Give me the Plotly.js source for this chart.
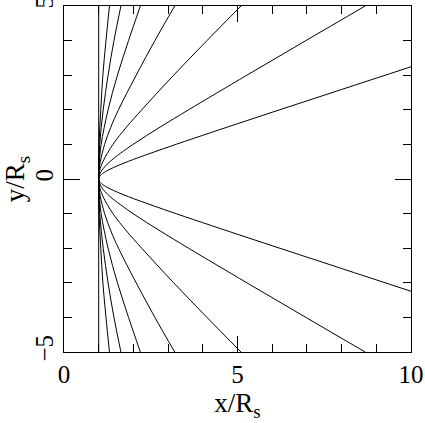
<!DOCTYPE html>
<html>
<head>
<meta charset="utf-8">
<script src="https://cdn.plot.ly/plotly-3.0.1.min.js"></script>
<style>
  html, body { margin: 0; padding: 0; background: #fff; }
  #plot { width: 425px; height: 423px; }
</style>
</head>
<body>
<div id="plot"></div>
<script>
// field lines, upper half (y >= 0)
const xA = [1, 1.01, 1.06, 1.12, 1.21, 1.31];
const yA = [0, 1, 2, 3, 4, 5];
const xB = [1, 1.03, 1.13, 1.27, 1.44, 1.64];
const yB = [0, 1, 2, 3, 4, 5];
const xC = [1, 1.02, 1.07, 1.27, 1.54, 1.86, 2.20];
const yC = [0, 0.5, 1, 2, 3, 4, 5];
const xD = [1, 1.01, 1.045, 1.17, 1.35, 1.57, 2.08, 2.62, 3.19];
const yD = [0, 0.25, 0.5, 1, 1.5, 2, 3, 4, 5];
const xE = [1, 1.005, 1.03, 1.12, 1.41, 1.80, 2.24, 3.16, 4.12, 5.10];
const yE = [0, 0.1, 0.25, 0.5, 1, 1.5, 2, 3, 4, 5];
const xF = [1, 1.015, 1.09, 1.32, 1.99, 2.77, 3.59, 5.27, 6.97, 8.68];
const yF = [0, 0.1, 0.25, 0.5, 1, 1.5, 2, 3, 4, 5];
const xG = [1, 1.01, 1.05, 1.2, 1.5, 2, 3, 4, 6, 8, 10];
const yG = [0, 0.046, 0.104, 0.216, 0.364, 0.565, 0.922, 1.263, 1.929, 2.587, 3.244];

// lower half (y <= 0)
const yAlow = [0, -1, -2, -3, -4, -5];
const yBlow = [0, -1, -2, -3, -4, -5];
const yClow = [0, -0.5, -1, -2, -3, -4, -5];
const yDlow = [0, -0.25, -0.5, -1, -1.5, -2, -3, -4, -5];
const yElow = [0, -0.1, -0.25, -0.5, -1, -1.5, -2, -3, -4, -5];
const yFlow = [0, -0.1, -0.25, -0.5, -1, -1.5, -2, -3, -4, -5];
const yGlow = [0, -0.046, -0.104, -0.216, -0.364, -0.565, -0.922, -1.263, -1.929, -2.587, -3.244];

// the straight line at x = 1
const xAxisLine = [1, 1];
const yAxisLine = [-5, 5];

const curves = [
    [xAxisLine, yAxisLine],
    [xA, yA], [xB, yB], [xC, yC], [xD, yD], [xE, yE], [xF, yF], [xG, yG],
    [xA, yAlow], [xB, yBlow], [xC, yClow], [xD, yDlow], [xE, yElow], [xF, yFlow], [xG, yGlow]
];

const traces = curves.map(c => ({
    x: c[0],
    y: c[1],
    mode: 'lines',
    type: 'scatter',
    line: { color: '#000', width: 1, shape: 'spline', smoothing: 1 },
    hoverinfo: 'skip',
    showlegend: false
}));

const font = { family: 'Liberation Serif, Times New Roman, serif', size: 25, color: '#000' };
const titleFont = { family: 'Liberation Serif, Times New Roman, serif', size: 27, color: '#000' };

const axisStyle = {
    showline: true,
    linecolor: '#000',
    linewidth: 1,
    mirror: 'allticks',
    ticks: 'inside',
    ticklen: 16,
    tickwidth: 1,
    tickcolor: '#000',
    dtick: 5,
    tick0: 0,
    showgrid: false,
    zeroline: false,
    tickfont: font,
    ticklabeloverflow: 'allow',
    minor: { dtick: 1, ticks: 'inside', ticklen: 8, tickcolor: '#000', showgrid: false }
};

const layout = {
    width: 425,
    height: 423,
    margin: { l: 64, r: 14, t: 6, b: 71 },
    paper_bgcolor: '#fff',
    plot_bgcolor: '#fff',
    font: font,
    xaxis: Object.assign({}, axisStyle, {
        range: [0, 10],
        title: { text: 'x/R<sub>s</sub>', font: titleFont, standoff: 4 }
    }),
    yaxis: Object.assign({}, axisStyle, {
        range: [-5, 5],
        tickangle: -90,
        title: { text: 'y/R<sub>s</sub>', font: titleFont, standoff: 2 }
    })
};

Plotly.newPlot('plot', traces, layout, { displayModeBar: false, staticPlot: true });
</script>
</body>
</html>
